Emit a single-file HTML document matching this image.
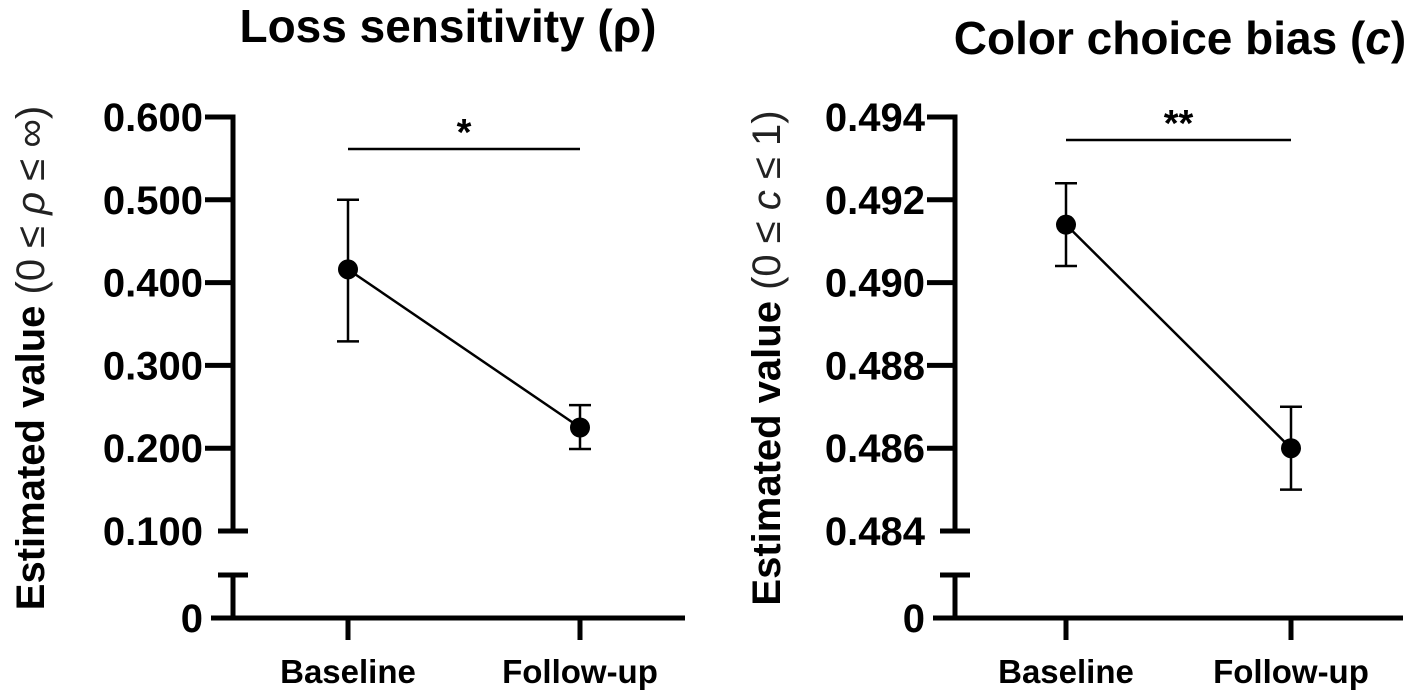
<!DOCTYPE html>
<html><head><meta charset="utf-8"><style>
html,body{margin:0;padding:0;background:#fff;}
svg{display:block;font-family:"Liberation Sans",Arial,sans-serif;}
</style></head><body>
<svg id="chart" width="1417" height="694" viewBox="0 0 1417 694">
<text x="448" y="42" font-size="46" font-weight="bold" text-anchor="middle">Loss sensitivity (ρ)</text>
<text x="1180" y="54" font-size="46" font-weight="bold" text-anchor="middle">Color choice bias (<tspan font-style="italic">c</tspan>)</text>
<g id="p1"></g>
<g id="p2"></g>
</svg>
<script>
const categories = ["Baseline", "Follow-up"];
const rhoValues = [0.416, 0.225];
const rhoLow = [0.329, 0.199];
const rhoHigh = [0.500, 0.252];
const rhoTicks = ["0.600", "0.500", "0.400", "0.300", "0.200", "0.100"];
const rhoTickVals = [0.6, 0.5, 0.4, 0.3, 0.2, 0.1];
const cValues = [0.4914, 0.4860];
const cLow = [0.4904, 0.4850];
const cHigh = [0.4924, 0.4870];
const cTicks = ["0.494", "0.492", "0.490", "0.488", "0.486", "0.484"];
const cTickVals = [0.494, 0.492, 0.490, 0.488, 0.486, 0.484];

const NS = "http://www.w3.org/2000/svg";
function mk(parent, tag, attrs) {
  const e = document.createElementNS(NS, tag);
  for (const k in attrs) e.setAttribute(k, attrs[k]);
  parent.appendChild(e);
  return e;
}
function panel(g, cfg) {
  const ax = cfg.ax, y0 = 618, top = 117, bottom = 531;
  const ymin = cfg.tickVals[cfg.tickVals.length - 1], ymax = cfg.tickVals[0];
  const Y = v => bottom - (v - ymin) / (ymax - ymin) * (bottom - top);
  const X = i => cfg.x0 + i * (cfg.x1 - cfg.x0);
  let e = mk(g, "line", {x1: ax, y1: top - 2.5, x2: ax, y2: bottom, stroke: "#000", "stroke-width": 5});
  
  
  e = mk(g, "line", {x1: ax - 15, y1: bottom, x2: ax + 15, y2: bottom, stroke: "#000", "stroke-width": 5});
  
  
  e = mk(g, "line", {x1: ax, y1: 575, x2: ax, y2: y0, stroke: "#000", "stroke-width": 5});
  
  
  e = mk(g, "line", {x1: ax - 15, y1: 575, x2: ax + 15, y2: 575, stroke: "#000", "stroke-width": 5});
  
  
  e = mk(g, "line", {x1: ax - 22, y1: y0, x2: cfg.xend, y2: y0, stroke: "#000", "stroke-width": 5});
  
  
  cfg.tickVals.forEach((v, i) => {
    const y = Y(v);
    if (i < cfg.tickVals.length - 1) {
      const t = mk(g, "line", {x1: ax - 28, y1: y, x2: ax, y2: y, stroke: "#000", "stroke-width": 5});
      
      
    }
    const lb = mk(g, "text", {x: ax - 30, y: y + 14, "font-size": 40, "font-weight": "bold", "text-anchor": "end"});
    lb.textContent = cfg.ticks[i];
    
    
  });
  const z = mk(g, "text", {x: ax - 30, y: y0 + 14, "font-size": 40, "font-weight": "bold", "text-anchor": "end"});
  z.textContent = "0";
  
  
  categories.forEach((c, i) => {
    const t = mk(g, "line", {x1: X(i), y1: y0, x2: X(i), y2: 640, stroke: "#000", "stroke-width": 5});
    
    
    const lb = mk(g, "text", {x: X(i), y: 683, "font-size": 33, "font-weight": "bold", "text-anchor": "middle"});
    lb.textContent = c;
    
    
  });
  const yt = mk(g, "text", {transform: `translate(${cfg.ytx},358) rotate(-90)`, "font-size": 40, "text-anchor": "middle"});
  
  
  yt.innerHTML = '<tspan font-weight="bold">Estimated value</tspan> <tspan fill="#222">(0 ≤ <tspan font-style="italic">' + cfg.sym + '</tspan> ≤ ' + cfg.upper + ')</tspan>';
  const ln = mk(g, "line", {x1: X(0), y1: Y(cfg.vals[0]), x2: X(1), y2: Y(cfg.vals[1]), stroke: "#000", "stroke-width": 2.5});
  
  
  cfg.vals.forEach((v, i) => {
    const x = X(i);
    const eb = mk(g, "path", {d: `M${x},${Y(cfg.hi[i])}V${Y(cfg.lo[i])}M${x-11},${Y(cfg.hi[i])}H${x+11}M${x-11},${Y(cfg.lo[i])}H${x+11}`, stroke: "#000", "stroke-width": 2.5, fill: "none"});
    
    
    const pt = mk(g, "circle", {cx: x, cy: Y(v), r: 10, fill: "#000"});
    
    
  });
  const sl = mk(g, "line", {x1: X(0), y1: cfg.sigY, x2: X(1), y2: cfg.sigY, stroke: "#000", "stroke-width": 2.5});
  
  
  const st = mk(g, "text", {x: (X(0) + X(1)) / 2, y: cfg.sigY - 4, "font-size": 38, "font-weight": "bold", "text-anchor": "middle"});
  st.textContent = cfg.sig;
  
  
}
panel(document.getElementById("p1"), {ax: 233, x0: 348, x1: 580, xend: 685, ytx: 44, ticks: rhoTicks, tickVals: rhoTickVals, vals: rhoValues, lo: rhoLow, hi: rhoHigh, sym: "ρ", upper: "∞", sigY: 149, sig: "*"});
panel(document.getElementById("p2"), {ax: 955, x0: 1066, x1: 1291, xend: 1403, ytx: 780, ticks: cTicks, tickVals: cTickVals, vals: cValues, lo: cLow, hi: cHigh, sym: "c", upper: "1", sigY: 140, sig: "**"});
</script>
</body></html>
